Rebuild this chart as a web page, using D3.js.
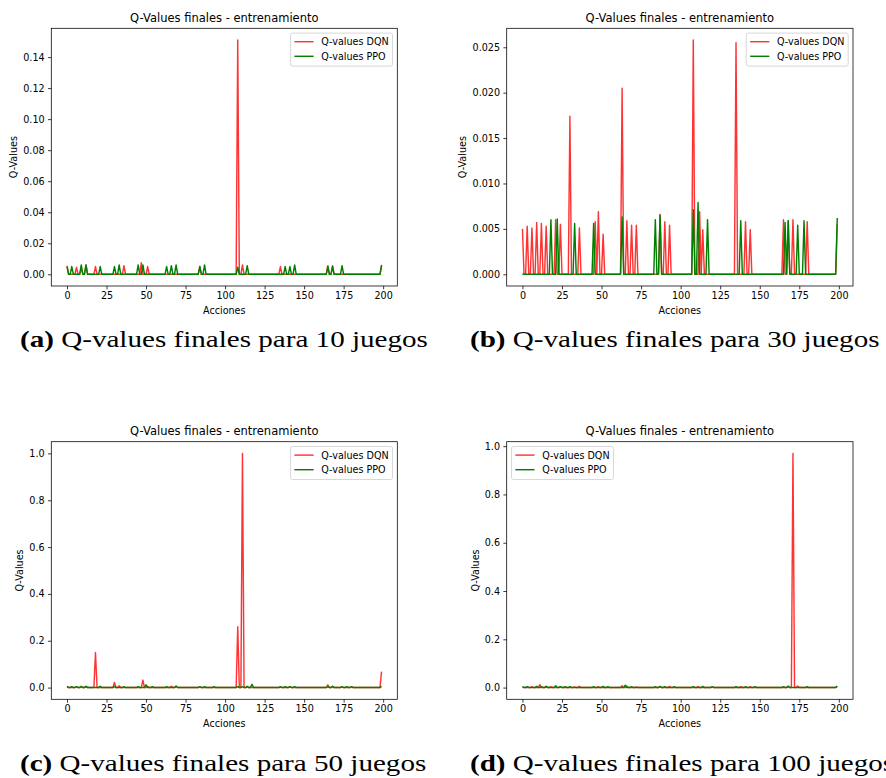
<!DOCTYPE html>
<html><head><meta charset="utf-8">
<script src="https://cdn.jsdelivr.net/npm/d3@7"></script>
<style>body{margin:0;background:#fff} svg{display:block}</style>
</head><body>
<svg id="c" width="886" height="778"></svg>
<script>
// ---------------- data ----------------
const actions = d3.range(0, 200);            // action index 0..199
const xTicks = [0, 25, 50, 75, 100, 125, 150, 175, 200];
const seriesNames = ["Q-values DQN", "Q-values PPO"];
const chartTitle = "Q-Values finales - entrenamiento";
const xLabel = "Acciones";
const yLabel = "Q-Values";
const captionTags = ["(a)", "(b)", "(c)", "(d)"];
const captionTexts = ["Q-values finales para 10 juegos", "Q-values finales para 30 juegos",
                      "Q-values finales para 50 juegos", "Q-values finales para 100 juegos"];
const yTicks10 = [0, 0.02, 0.04, 0.06, 0.08, 0.10, 0.12, 0.14];
const yTicks30 = [0, 0.005, 0.010, 0.015, 0.020, 0.025];
const yTicks50 = [0, 0.2, 0.4, 0.6, 0.8, 1.0];
const yTicks100 = [0, 0.2, 0.4, 0.6, 0.8, 1.0];

// non-zero Q-values as [action, value]; every other action reads 0
const dqn10 = [[0,0.0055],[6,0.0045],[9,0.004],[12,0.006],[18,0.005],[36,0.0055],[47,0.0075],[51,0.005],
  [84,0.005],[108,0.151],[111,0.006],[135,0.005],[165,0.0055],[168,0.0055],[199,0.0055]];
const ppo10 = [[0,0.005],[3,0.005],[9,0.006],[12,0.006],[21,0.005],[30,0.005],[33,0.006],[45,0.006],[48,0.006],
  [63,0.005],[66,0.0055],[69,0.006],[84,0.005],[87,0.006],[108,0.0045],[114,0.0055],[138,0.005],[141,0.005],
  [144,0.006],[165,0.005],[168,0.005],[174,0.0055],[199,0.006]];

const dqn30 = [[0,0.005],[3,0.0053],[6,0.0051],[9,0.0057],[12,0.0056],[15,0.0053],[21,0.006],[24,0.0055],
  [30,0.0174],[36,0.0051],[46,0.0058],[48,0.0069],[51,0.0044],[63,0.0205],[66,0.0059],[69,0.0054],[72,0.0054],
  [87,0.0066],[90,0.0058],[93,0.0054],[108,0.0258],[112,0.0069],[114,0.0049],[135,0.0255],[141,0.0058],
  [144,0.0049],[165,0.006],[168,0.0059],[171,0.006],[180,0.0058],[199,0.0055]];
const ppo30 = [[18,0.006],[22,0.0061],[33,0.0056],[45,0.0056],[63,0.0063],[84,0.006],[87,0.0065],[108,0.0071],
  [111,0.0079],[117,0.006],[138,0.0059],[166,0.0057],[168,0.0059],[174,0.0054],[178,0.0059],[199,0.0062]];

const dqn50 = [[0,0.004],[6,0.003],[9,0.004],[12,0.005],[18,0.15],[30,0.022],[33,0.008],[48,0.032],[51,0.005],
  [66,0.006],[69,0.004],[84,0.003],[108,0.26],[111,1.0],[114,0.004],[135,0.003],[141,0.004],[165,0.012],
  [168,0.005],[174,0.003],[180,0.004],[199,0.068]];
const ppo50 = [[0,0.005],[3,0.004],[6,0.004],[9,0.005],[12,0.005],[21,0.006],[30,0.005],[36,0.004],[45,0.004],
  [50,0.012],[54,0.004],[63,0.004],[69,0.007],[84,0.004],[87,0.004],[93,0.004],[108,0.004],[111,0.004],
  [114,0.005],[117,0.014],[135,0.004],[138,0.004],[141,0.004],[144,0.004],[165,0.004],[168,0.005],[174,0.004],
  [177,0.004],[180,0.004],[199,0.005]];

const dqn100 = [[0,0.003],[6,0.004],[11,0.012],[15,0.005],[18,0.004],[24,0.004],[33,0.003],[36,0.005],[48,0.004],
  [63,0.008],[66,0.006],[72,0.003],[87,0.004],[93,0.005],[111,0.004],[120,0.003],[138,0.004],[144,0.004],
  [168,0.006],[171,0.97],[174,0.006],[199,0.004]];
const ppo100 = [[0,0.004],[3,0.004],[9,0.005],[12,0.004],[15,0.005],[21,0.008],[24,0.004],[27,0.004],[30,0.004],
  [45,0.004],[51,0.005],[54,0.004],[65,0.01],[69,0.004],[84,0.004],[87,0.005],[90,0.004],[96,0.004],[108,0.004],
  [114,0.005],[120,0.004],[135,0.004],[141,0.004],[147,0.004],[165,0.004],[168,0.005],[180,0.004],[199,0.006]];

// ---------------- layout ----------------
const FONT = "'DejaVu Sans', sans-serif";
const SERIF = "'Liberation Serif', 'Times New Roman', serif";
const TICK_FS = 9.6, TITLE_FS = 11.5;
const panels = [
  {box:[51.3, 28.3, 397.3, 286],   dqn:dqn10,  ppo:ppo10,  ticks:yTicks10,  fmt:".2f", legend:"right", cap:[20, 347]},
  {box:[506.7, 28.3, 853, 286],    dqn:dqn30,  ppo:ppo30,  ticks:yTicks30,  fmt:".3f", legend:"right", cap:[470, 347]},
  {box:[51.3, 441.7, 397.3, 699.3],dqn:dqn50,  ppo:ppo50,  ticks:yTicks50,  fmt:".1f", legend:"right", cap:[20, 771]},
  {box:[506.7, 441.7, 853, 699.3], dqn:dqn100, ppo:ppo100, ticks:yTicks100, fmt:".1f", legend:"left",  cap:[470, 771]},
];
const colors = ["#ff0000", "#008000"];
const opac = [0.8, 1];

function expand(sparse) { const m = new Map(sparse); return actions.map(a => m.has(a) ? m.get(a) : 0); }

const svg = d3.select("#c");

panels.forEach((p, pi) => {
  const [x0, y0, x1, y1] = p.box;
  const g = svg.append("g");
  const dq = expand(p.dqn), pp = expand(p.ppo);
  const all = dq.concat(pp);
  const mn = d3.min(all), mx = d3.max(all), pad = 0.05 * (mx - mn);
  const xr = 0.05 * (199 - 0);
  const x = d3.scaleLinear().domain([0 - xr, 199 + xr]).range([x0, x1]);
  const y = d3.scaleLinear().domain([mn - pad, mx + pad]).range([y1, y0]);

  const clipId = "clip" + pi;
  g.append("clipPath").attr("id", clipId).append("rect")
    .attr("x", x0).attr("y", y0).attr("width", x1 - x0).attr("height", y1 - y0);

  const line = d3.line().x((v, i) => x(actions[i])).y(v => y(v));
  [dq, pp].forEach((s, si) => {
    g.append("path").attr("d", line(s)).attr("fill", "none")
      .attr("stroke", colors[si]).attr("stroke-opacity", opac[si])
      .attr("stroke-width", 1.44).attr("stroke-linejoin", "round")
      .attr("clip-path", `url(#${clipId})`);
  });

  // spines
  g.append("rect").attr("x", x0).attr("y", y0).attr("width", x1 - x0).attr("height", y1 - y0)
    .attr("fill", "none").attr("stroke", "#000").attr("stroke-width", 0.77);

  // axes
  const xa = g.append("g").attr("transform", `translate(0,${y1})`)
    .call(d3.axisBottom(x).tickValues(xTicks).tickFormat(d3.format("d")).tickSize(3.35).tickPadding(3.0));
  const ya = g.append("g").attr("transform", `translate(${x0},0)`)
    .call(d3.axisLeft(y).tickValues(p.ticks).tickFormat(d3.format(p.fmt)).tickSize(3.35).tickPadding(3.35));
  [xa, ya].forEach(a => {
    a.select(".domain").remove();
    a.selectAll("line").attr("stroke", "#000").attr("stroke-width", 0.77);
    a.selectAll("text").attr("fill", "#000").style("font-family", FONT).style("font-size", TICK_FS + "px");
  });

  // title
  g.append("text").attr("x", (x0 + x1) / 2).attr("y", y0 - 6.3).attr("text-anchor", "middle")
    .style("font-family", FONT).style("font-size", TITLE_FS + "px").attr("fill", "#000").text(chartTitle);
  // x label
  g.append("text").attr("x", (x0 + x1) / 2).attr("y", y1 + 28).attr("text-anchor", "middle")
    .style("font-family", FONT).style("font-size", TICK_FS + "px").attr("fill", "#000").text(xLabel);
  // y label (getBBox is in the axis group's local coords)
  const bb = ya.node().getBBox();
  const lx = x0 + bb.x - 6.1, ly = (y0 + y1) / 2;
  g.append("text").attr("transform", `translate(${lx},${ly}) rotate(-90)`).attr("text-anchor", "middle")
    .style("font-family", FONT).style("font-size", TICK_FS + "px").attr("fill", "#000").text(yLabel);

  // legend
  const lg = g.append("g");
  const texts = seriesNames.map((n, i) => lg.append("text").style("font-family", FONT)
    .style("font-size", TICK_FS + "px").attr("fill", "#000").text(n));
  const tw = d3.max(texts, t => t.node().getComputedTextLength());
  const bw = 30.7 + tw + 3.84, bh = 33;
  const bx = p.legend === "right" ? x1 - 4.8 - bw : x0 + 4.8;
  const by = y0 + 4.8;
  lg.insert("rect", "text").attr("x", bx).attr("y", by).attr("width", bw).attr("height", bh)
    .attr("rx", 2).attr("fill", "#fff").attr("fill-opacity", 0.8)
    .attr("stroke", "#cccccc").attr("stroke-width", 0.77);
  seriesNames.forEach((n, i) => {
    const cy = by + 8.6 + i * 14.6;
    lg.append("line").attr("x1", bx + 3.84).attr("x2", bx + 23.04).attr("y1", cy).attr("y2", cy)
      .attr("stroke", colors[i]).attr("stroke-opacity", opac[i]).attr("stroke-width", 1.44);
    texts[i].attr("x", bx + 30.7).attr("y", cy).attr("dy", "0.36em");
  });
});

// captions
const capW = 408;
let scaleX = 1;
panels.forEach((p, pi) => {
  const cg = svg.append("g");
  const t = cg.append("text").style("font-family", SERIF).style("font-size", "23px")
    .attr("fill", "#000");
  t.append("tspan").style("font-weight", "bold").text(captionTags[pi]);
  t.append("tspan").text("\u00a0" + captionTexts[pi]);
  if (pi === 0) scaleX = capW / t.node().getComputedTextLength();
  cg.attr("transform", `translate(${p.cap[0]},${p.cap[1]}) scale(${scaleX},1)`);
});
</script>
</body></html>
